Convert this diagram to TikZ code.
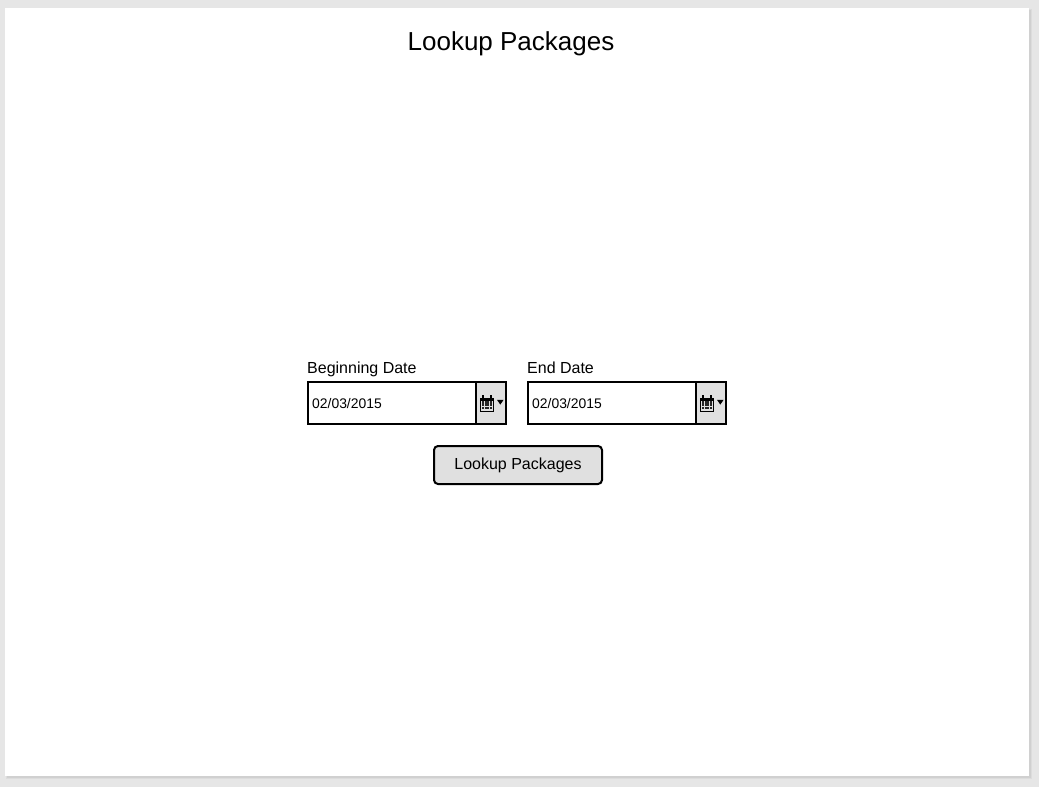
\documentclass[tikz,border=0pt]{standalone}
\usepackage{xcolor}
\usepackage{fontspec}
\setmainfont{Liberation Sans}
\usetikzlibrary{positioning, calc}
\definecolor{mockbg}{RGB}{230, 230, 230}
\definecolor{mockshadow}{RGB}{208, 208, 208}
\definecolor{mockshadowsoft}{RGB}{220, 220, 220}
\definecolor{mockfill}{RGB}{224, 224, 224}
\newcommand{\calicon}[1]{%
  \fill (#1) ++(-7,-5.5) rectangle ++(14,3);
  \draw[line width=1pt] (#1) ++(-6.5,-5) rectangle ++(13,13);
  \fill (#1) ++(-5,-8) rectangle ++(2,3);
  \fill (#1) ++(3,-8) rectangle ++(2,3);
  \foreach \row in {0,1,2}
    \foreach \col in {0,1,2,3}
      \fill[black!85] (#1) ++(-5+2.6*\col,-1.7+2.9*\row) rectangle ++(2.2,2.2);
  \fill (#1) ++(10,-3.2) -- ++(6.6,0) -- ++(-3.3,4.8) -- cycle;
}
\begin{document}
\begin{tikzpicture}[
    x=1pt, y=-1pt,
    page/.style={fill=white, minimum width=1024pt, minimum height=768pt,
                 inner sep=0pt, outer sep=0pt},
    lab/.style={font=\fontsize{16}{18}\selectfont, inner sep=0pt, anchor=base west},
    datebox/.style={draw, line width=2pt, fill=white, minimum width=169pt,
                    minimum height=42pt, inner sep=0pt, outer sep=0pt,
                    anchor=north west},
    calbtn/.style={draw, line width=2pt, fill=mockfill, minimum width=30pt,
                   minimum height=42pt, inner sep=0pt, outer sep=0pt,
                   anchor=north west},
    dateval/.style={font=\fontsize{13.9}{15}\selectfont, inner sep=0pt},
    btn/.style={draw, line width=2pt, rounded corners=4pt, fill=mockfill,
                minimum width=168pt, minimum height=38pt, inner sep=0pt,
                font=\fontsize{16}{18}\selectfont},
  ]
    \useasboundingbox (0,0) rectangle (1039,787);
    \fill[mockbg] (0,0) rectangle (1039,787);
    \fill[mockshadowsoft] (6,9) rectangle (1032,779);
    \fill[mockshadow] (7,10) rectangle (1031,778);
    \node[page, anchor=north west] (sheet) at (5,8) {};

    \node[font=\fontsize{26}{30}\selectfont, inner sep=0pt] (title) at (511,44) {Lookup Packages};

    \node[lab] (beginlab) at (307,373.2) {Beginning Date};
    \node[lab] (endlab) at (527,373.2) {End Date};

    \node[datebox] (beginbox) at (308,382) {};
    \node[calbtn] (begincal) at (476,382) {};
    \node[dateval, anchor=west] (beginval) at (312,403.5) {02/03/2015};

    \node[datebox] (endbox) at (528,382) {};
    \node[calbtn] (endcal) at (696,382) {};
    \node[dateval, anchor=west] (endval) at (532,403.5) {02/03/2015};

    \coordinate (beginicon) at (487,403);
    \coordinate (endicon) at (707,403);
    \calicon{beginicon}
    \calicon{endicon}

    \node[btn] (lookup) at (518,465) {\raisebox{-0.8pt}{Lookup Packages}};
  \end{tikzpicture}
\end{document}
